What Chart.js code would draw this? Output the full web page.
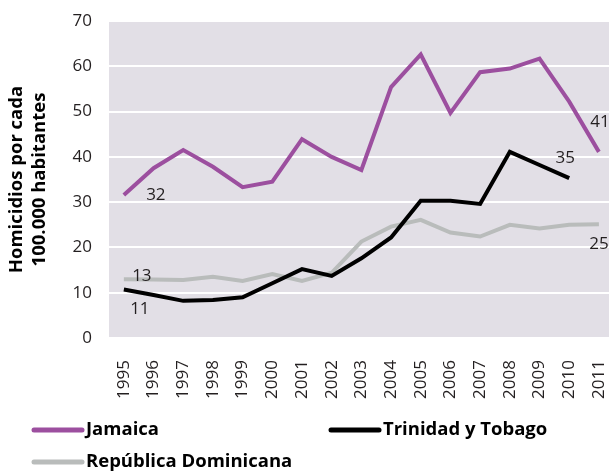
<!DOCTYPE html>
<html>
<head>
<meta charset="utf-8">
<script src="https://cdn.jsdelivr.net/npm/chart.js@4/dist/chart.umd.min.js"></script>
<style>
  html, body { margin: 0; padding: 0; background: #ffffff; overflow: hidden; }
  #c { display: block; }
</style>
</head>
<body>
<canvas id="c" width="609" height="471"></canvas>
<script>
// ---- Data ----
const years = [1995, 1996, 1997, 1998, 1999, 2000, 2001, 2002, 2003, 2004, 2005, 2006, 2007, 2008, 2009, 2010, 2011];
const jamaica = [31.6, 37.5, 41.5, 37.8, 33.3, 34.5, 43.9, 40.0, 37.1, 55.4, 62.6, 49.7, 58.7, 59.5, 61.7, 52.2, 41.1];
const trinidad = [10.7, 9.5, 8.2, 8.4, 9.0, 12.1, 15.2, 13.7, 17.6, 22.2, 30.3, 30.3, 29.6, 41.1, 38.2, 35.3, null];
const dominicana = [13.0, 12.9, 12.8, 13.5, 12.6, 14.1, 12.6, 14.4, 21.3, 24.6, 26.1, 23.3, 22.4, 25.0, 24.2, 25.0, 25.1];
const seriesNames = ['Jamaica', 'Trinidad y Tobago', 'República Dominicana'];
const yTicks = [0, 10, 20, 30, 40, 50, 60, 70];
const yTitle = ['Homicidios por cada', '100.000 habitantes'];
// value labels: [series index, year index, text]
const valueLabels = [[0, 0, '32'], [0, 16, '41'], [1, 15, '35'], [1, 0, '11'], [2, 0, '13'], [2, 16, '25']];

// ---- Styles ----
const colors = ['#9C4F9F', '#000000', '#B9BCBB'];
const labelOffsets = [[32, 0], [1, -30], [-4, -20], [16, 20], [18, -3], [0, 20]];
const legendPos = [[32, 430], [329, 430], [32, 462]];
const FONT = "'Open Sans', 'Noto Sans', sans-serif";
const TEXT = '#231F20';

const seriesData = [jamaica, trinidad, dominicana];
const datasets = seriesData.map((arr, i) => ({
  label: seriesNames[i],
  data: years.map((y, j) => ({ x: y, y: arr[j] })),
  borderColor: colors[i],
  backgroundColor: colors[i],
  borderWidth: 4,
  pointRadius: 0,
  tension: 0,
  spanGaps: false,
  order: i
}));

const bgPlugin = {
  id: 'bg',
  beforeDraw(chart) {
    const { ctx, chartArea: a } = chart;
    ctx.save();
    ctx.fillStyle = '#E2DFE6';
    ctx.fillRect(a.left, a.top, a.right - a.left, a.bottom - a.top);
    ctx.restore();
  }
};

const labelPlugin = {
  id: 'valueLabels',
  afterDatasetsDraw(chart) {
    const { ctx } = chart;
    const xs = chart.scales.x, ys = chart.scales.y;
    ctx.save();
    ctx.font = '17px ' + FONT;
    ctx.fillStyle = TEXT;
    ctx.textAlign = 'center';
    ctx.textBaseline = 'middle';
    valueLabels.forEach((l, k) => {
      const v = seriesData[l[0]][l[1]];
      const px = xs.getPixelForValue(years[l[1]]) + labelOffsets[k][0];
      const py = ys.getPixelForValue(v) + labelOffsets[k][1];
      ctx.fillText(l[2], px, py);
    });
    ctx.restore();
  }
};

const legendPlugin = {
  id: 'customLegend',
  afterDraw(chart) {
    const { ctx } = chart;
    ctx.save();
    chart.data.datasets.forEach((ds, i) => {
      const [x, y] = legendPos[i];
      ctx.strokeStyle = ds.borderColor;
      ctx.lineWidth = 5;
      ctx.lineCap = 'round';
      ctx.beginPath();
      ctx.moveTo(x + 2, y);
      ctx.lineTo(x + 50, y);
      ctx.stroke();
      ctx.font = 'bold 18.5px ' + FONT;
      ctx.fillStyle = '#000';
      ctx.textAlign = 'left';
      ctx.textBaseline = 'middle';
      ctx.fillText(ds.label, x + 54, y);
    });
    ctx.restore();
  }
};

new Chart(document.getElementById('c'), {
  type: 'line',
  data: { datasets },
  options: {
    responsive: false,
    animation: false,
    devicePixelRatio: 1,
    layout: { padding: { top: 21, left: 0, right: 0, bottom: 0 } },
    plugins: { legend: { display: false }, tooltip: { enabled: false } },
    scales: {
      x: {
        type: 'linear',
        min: 1994.5,
        max: 2011.34,
        afterBuildTicks: s => { s.ticks = years.map(v => ({ value: v })); },
        afterFit: s => { s.height = 133; s.paddingLeft = 0; s.paddingRight = 0; },
        grid: { display: false },
        border: { display: false },
        ticks: {
          autoSkip: false,
          minRotation: 90,
          maxRotation: 90,
          padding: 14,
          color: TEXT,
          font: { family: FONT, size: 17 },
          callback: v => String(v)
        }
      },
      y: {
        min: 0,
        max: 70,
        afterBuildTicks: s => { s.ticks = yTicks.map(v => ({ value: v })); },
        afterFit: s => { s.width = 109; s.paddingTop = 0; s.paddingBottom = 0; },
        grid: {
          color: '#FFFFFF',
          lineWidth: 2,
          drawTicks: false
        },
        border: { display: false },
        ticks: {
          padding: 17,
          color: TEXT,
          font: { family: FONT, size: 17 }
        },
        title: {
          display: true,
          text: yTitle,
          color: '#000',
          font: { family: FONT, size: 18.5, weight: 'bold', lineHeight: 1.25 },
          padding: { top: 5, bottom: 0 }
        }
      }
    }
  },
  plugins: [bgPlugin, labelPlugin, legendPlugin]
});
</script>
</body>
</html>
